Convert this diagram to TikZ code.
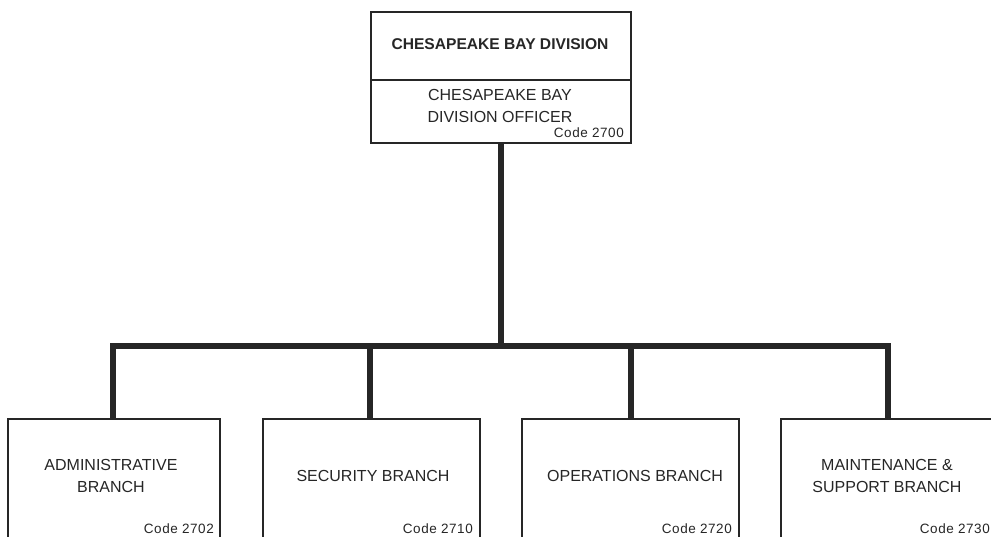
\documentclass[tikz,border=0pt]{standalone}
\usepackage{fontspec}
\setmainfont{Liberation Sans}
\begin{document}
\begin{tikzpicture}[x=1pt,y=-1pt,
  box/.style={draw=black!85,line width=1.8pt,fill=white,rectangle,inner sep=0pt},
  bus/.style={line width=6pt,black!85,line join=miter},
  lbl/.style={inner sep=0pt,align=center,font=\fontsize{16}{21.5}\selectfont,black!85},
  codelbl/.style={inner sep=0pt,anchor=base east,font=\addfontfeatures{LetterSpace=4}\fontsize{13.5}{15}\selectfont,black!85}]
\useasboundingbox (0,0) rectangle (991,536);
\clip (0,0) rectangle (991,536);
\fill[white] (0,0) rectangle (991,536);
% top box
\node[box,minimum width=260pt,minimum height=131pt] (top) at (501,77.5) {};
\coordinate (divl) at (371,80);
\coordinate (divr) at (631,80);
\draw[black!85,line width=1.6pt] (divl) -- (divr);
\node[lbl,font=\bfseries\fontsize{15.6}{18}\selectfont] (title) at (500,44) {CHESAPEAKE BAY DIVISION};
\node[lbl] (officer) at (500,106) {CHESAPEAKE BAY\\DIVISION OFFICER};
\node[codelbl] (c0) at (624,137) {Code 2700};
% bottom boxes
\node[box,minimum width=212pt,minimum height=160pt] (b1) at (114,499) {};
\node[box,minimum width=217pt,minimum height=160pt] (b2) at (371.5,499) {};
\node[box,minimum width=217pt,minimum height=160pt] (b3) at (630.5,499) {};
\node[box,minimum width=217pt,minimum height=160pt] (b4) at (889.5,499) {};
\node[lbl] (t1) at (111,476) {ADMINISTRATIVE\\BRANCH};
\node[lbl] (t2) at (373,476) {SECURITY BRANCH};
\node[lbl] (t3) at (635,476) {OPERATIONS BRANCH};
\node[lbl] (t4) at (887,476) {MAINTENANCE \&\\SUPPORT BRANCH};
\node[codelbl] (c1) at (214,533) {Code 2702};
\node[codelbl] (c2) at (473,533) {Code 2710};
\node[codelbl] (c3) at (732,533) {Code 2720};
\node[codelbl] (c4) at (990,533) {Code 2730};
% connectors
\coordinate (j) at (501,346);
\draw[bus] (top.south) -- (j);
\draw[bus] (j) -| ([xshift=-1pt]b1.north);
\draw[bus] (j) -| ([xshift=-1.5pt]b2.north);
\draw[bus] (j) -| (b3.north);
\draw[bus] (j) -| ([xshift=-1.5pt]b4.north);
\end{tikzpicture}
\end{document}
